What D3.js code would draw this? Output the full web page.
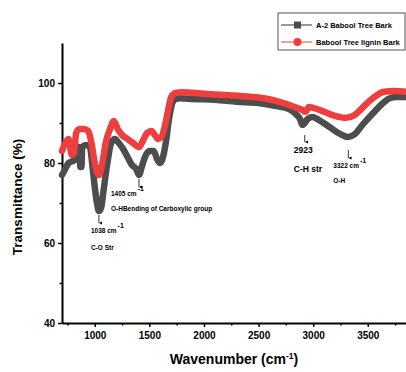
<!DOCTYPE html>
<html><head><meta charset="utf-8">
<script src="https://cdn.jsdelivr.net/npm/d3@7"></script>
<style>body{margin:0;background:#fff}svg{display:block}text{font-family:"Liberation Sans",Arial,sans-serif;font-weight:bold}</style>
</head><body><svg id="c" width="406" height="372"></svg>
<script>
const seriesNames = ["A-2 Babool Tree Bark", "Babool Tree lignin Bark"];
const colors = ["#4d4d4d", "#ef3e3e"];
const wnA = [700,720,760,800,830,845,860,868,878,885,920,955,980,1000,1020,1038,1060,1080,1110,1150,1185,1220,1260,1300,1340,1380,1405,1430,1460,1500,1540,1570,1597,1620,1650,1680,1710,1740,1780,1900,2100,2300,2500,2650,2780,2850,2880,2900,2923,2950,2990,3050,3150,3250,3320,3380,3450,3550,3640,3700,3760,3850];
const tA = [77,78,80,80.5,81,84,84,79,79,84,84.5,84,79,74,70,68,69,73,79,85,86,85,83.5,81.5,79.5,78.5,77,79,81.5,83,83,81,80,81,85,91,95,96,96.2,96,95.8,95.3,95,94.3,93.5,92,91,89.5,90,91,91.5,90.8,89,87.2,86.5,87.2,89.5,92.5,95,96.2,96.5,96.5];
const wnB = [700,730,760,790,810,830,860,900,940,970,1000,1038,1070,1100,1140,1175,1210,1250,1300,1350,1405,1440,1480,1520,1550,1580,1610,1640,1670,1700,1740,1800,2000,2200,2400,2550,2700,2830,2900,2930,2960,3000,3100,3200,3300,3380,3450,3550,3650,3750,3850];
const tB = [83,85,86,82,82.5,87.5,88.5,88.5,88,85,80,77,80,85,88.5,90.5,88.5,87,86,85,84,85.5,87.5,88,87,86,86.5,89,93,96.5,97.5,97.7,97.3,97,96.6,96.2,95.2,94,93.3,92.8,94,93.8,92.8,91.8,91.3,92,93.8,96.3,97.8,98,97.8];
const xTicks = [1000,1500,2000,2500,3000,3500];
const yTicks = [40,60,80,100];
const annotations = [
  {wn:1038, t:68, lines:["1038 cm","C-O Str"], sup:"-1"},
  {wn:1405, t:77, lines:["1405 cm","O-HBending of Carboxylic group"], sup:"-1"},
  {wn:2923, t:90, lines:["2923","C-H str"], sup:""},
  {wn:3322, t:86.5, lines:["3322 cm","O-H"], sup:"-1"}
];

const svg = d3.select("#c");
const x = d3.scaleLinear().domain([700,3850]).range([62,406]);
const y = d3.scaleLinear().domain([40,110]).range([323,43]);

svg.append("g").attr("transform","translate(0,323)")
  .call(d3.axisBottom(x).tickValues(xTicks).tickFormat(d3.format("d")).tickSize(4).tickPadding(5).tickSizeOuter(0));
svg.append("g").attr("transform","translate(0,323)")
  .call(d3.axisBottom(x).tickValues(d3.range(750,3851,500)).tickSize(2.5).tickFormat("").tickSizeOuter(0))
  .select(".domain").remove();
svg.append("g").attr("transform","translate(62,0)")
  .call(d3.axisLeft(y).tickValues(yTicks).tickSize(4).tickPadding(3).tickSizeOuter(0));
svg.append("g").attr("transform","translate(62,0)")
  .call(d3.axisLeft(y).tickValues([50,70,90]).tickSize(2.5).tickFormat("").tickSizeOuter(0))
  .select(".domain").remove();
svg.selectAll(".domain").attr("stroke","#000").attr("stroke-width",2);
svg.selectAll(".tick line").attr("stroke","#000").attr("stroke-width",1.5);
svg.selectAll(".tick text").attr("font-size",10).attr("fill","#000").attr("font-weight","bold")
  .style("font-family","'Liberation Sans',Arial,sans-serif");

const line = d3.line().x(d=>x(d[0])).y(d=>y(d[1])).curve(d3.curveMonotoneX);
const dataA = wnA.map((w,i)=>[w,tA[i]]);
const dataB = wnB.map((w,i)=>[w,tB[i]]);
svg.append("path").datum(dataA).attr("d",line).attr("fill","none").attr("stroke",colors[0])
  .attr("stroke-width",6.5).attr("stroke-linejoin","round").attr("stroke-linecap","round");
svg.append("path").datum(dataB).attr("d",line).attr("fill","none").attr("stroke",colors[1])
  .attr("stroke-width",6.5).attr("stroke-linejoin","round").attr("stroke-linecap","round");

svg.append("defs").append("marker").attr("id","ah").attr("viewBox","0 0 6 6").attr("refX",3).attr("refY",6)
  .attr("markerWidth",4).attr("markerHeight",4).attr("orient","auto-start-reverse")
  .append("path").attr("d","M0,0 L3,6 L6,0 Z").attr("fill","#000");
const annOff = [{ay0:4,ay1:12,tx:-8,ty:22,l2:39,big:false},{ay0:4,ay1:12,tx:-28,ty:21,l2:36,big:false},
                {ay0:12,ay1:19,tx:-11,ty:30,l2:49,big:true},{ay0:13,ay1:21,tx:-15,ty:31,l2:46,big:false}];
annotations.forEach((a,i)=>{
  const o = annOff[i];
  const px = x(a.wn), py = y(a.t);
  svg.append("line").attr("x1",px).attr("x2",px).attr("y1",py+o.ay0).attr("y2",py+o.ay1)
    .attr("stroke","#000").attr("stroke-width",0.8).attr("marker-end","url(#ah)");
  const t1 = svg.append("text").attr("x",px+o.tx).attr("y",py+o.ty).attr("font-size",o.big?8.5:6.5).attr("fill","#000").text(a.lines[0]);
  if(a.sup){
    const bb = t1.node().getComputedTextLength();
    svg.append("text").attr("x",px+o.tx+bb+1).attr("y",py+o.ty-5).attr("font-size",7).attr("fill","#000").text(a.sup);
  }
  svg.append("text").attr("x",px+o.tx).attr("y",py+o.l2).attr("font-size",o.big?8.5:6.5).attr("fill","#000").text(a.lines[1]);
});

svg.append("text").attr("transform","translate(22,197) rotate(-90)").attr("text-anchor","middle")
  .attr("font-size",13.5).attr("fill","#000").text("Transmittance (%)");
const xt = svg.append("text").attr("x",234).attr("y",364).attr("text-anchor","middle").attr("font-size",14).attr("fill","#000");
xt.append("tspan").text("Wavenumber (cm");
xt.append("tspan").attr("dy",-5).attr("font-size",8.5).text("-1");
xt.append("tspan").attr("dy",5).text(")");

const lg = svg.append("g");
lg.append("rect").attr("x",278).attr("y",13).attr("width",127).attr("height",37).attr("fill","#fff").attr("stroke","#555").attr("stroke-width",1);
seriesNames.forEach((n,i)=>{
  const ly = 25 + i*17;
  lg.append("line").attr("x1",281).attr("x2",312).attr("y1",ly).attr("y2",ly).attr("stroke",i?colors[1]:"#333").attr("stroke-width",1);
  if(i===0) lg.append("rect").attr("x",294).attr("y",ly-3.5).attr("width",7).attr("height",7).attr("fill","#4d4d4d");
  else lg.append("circle").attr("cx",297.5).attr("cy",ly).attr("r",4).attr("fill",colors[1]);
  lg.append("text").attr("x",316).attr("y",ly+3).attr("font-size",7.5).attr("fill","#000").text(n);
});
</script></body></html>
